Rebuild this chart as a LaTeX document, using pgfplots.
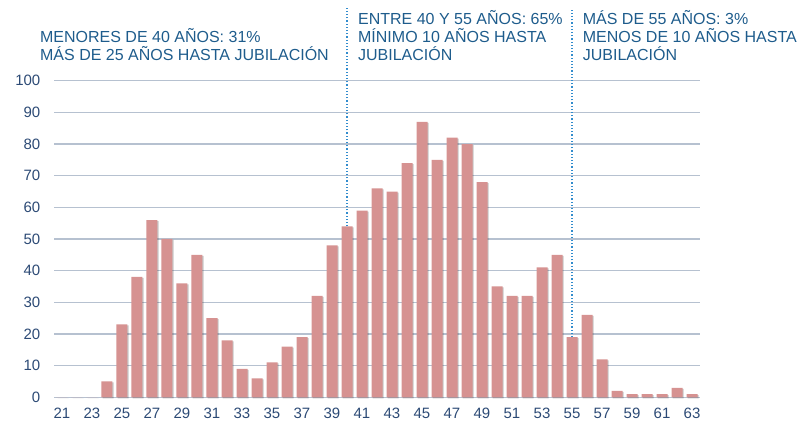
\documentclass[border=0pt]{standalone}
\usepackage{fontspec}
\setmainfont{Liberation Sans}
\usepackage{pgfplots}
\pgfplotsset{compat=1.18}
\definecolor{barc}{RGB}{214,146,145}
\definecolor{txt}{RGB}{30,92,140}
\definecolor{tickc}{RGB}{44,74,117}
\definecolor{gridc}{RGB}{182,193,208}
\definecolor{dotc}{RGB}{50,140,205}
\begin{document}
\begin{tikzpicture}
\useasboundingbox (-54.5bp,-25.7bp) rectangle (750.5bp,397.3bp);
\begin{axis}[
 at={(0,0)}, anchor=south west,
 scale only axis, width=645bp, height=316.6bp,
 xmin=20.5, xmax=63.5, ymin=0, ymax=100,
 xtick={21,23,...,63}, ytick={0,10,...,100},
 ymajorgrids, major grid style={gridc, line width=1.5bp},
 axis line style={draw=none}, major tick length=0pt,
 tick style={draw=none},
 /pgf/number format/assume math mode=true,
 ticklabel style={font=\fontsize{15bp}{18bp}\selectfont, text=tickc, inner sep=0pt},
 yticklabel style={anchor=east, xshift=-14bp},
 xticklabel style={anchor=north, yshift=-11bp},
 clip=false,
]
\addplot[ybar, bar width=11bp, fill=barc, draw=none,
  preaction={fill=black, opacity=0.22, transform canvas={xshift=1.2bp,yshift=-1bp}}]
 table[x=a, y=v]{
a v
21 0
22 0
23 0
24 5
25 23
26 38
27 56
28 50
29 36
30 45
31 25
32 18
33 9
34 6
35 11
36 16
37 19
38 32
39 48
40 54
41 59
42 66
43 65
44 74
45 87
46 75
47 82
48 80
49 68
50 35
51 32
52 32
53 41
54 45
55 19
56 26
57 12
58 2
59 1
60 1
61 1
62 3
63 1
};
\addplot[dotc, line width=1.2bp, dash pattern=on 1.2bp off 2bp] coordinates {(40,54) (40,123)};
\addplot[dotc, line width=1.2bp, dash pattern=on 1.2bp off 2bp] coordinates {(55,19) (55,123)};
\tikzset{lbl/.style={anchor=base west, inner sep=0pt, text=txt, font=\fontsize{16bp}{18bp}\selectfont}}
\node[lbl] at (axis cs:19.53,112.2) {MENORES DE 40 AÑOS: 31\%};
\node[lbl] at (axis cs:19.53,106.5) {MÁS DE 25 AÑOS HASTA JUBILACIÓN};
\node[lbl] at (axis cs:40.73,117.9) {ENTRE 40 Y 55 AÑOS: 65\%};
\node[lbl] at (axis cs:40.73,112.2) {MÍNIMO 10 AÑOS HASTA};
\node[lbl] at (axis cs:40.73,106.5) {JUBILACIÓN};
\node[lbl] at (axis cs:55.71,117.9) {MÁS DE 55 AÑOS: 3\%};
\node[lbl] at (axis cs:55.71,112.2) {MENOS DE 10 AÑOS HASTA};
\node[lbl] at (axis cs:55.71,106.5) {JUBILACIÓN};
\end{axis}
\end{tikzpicture}
\end{document}
